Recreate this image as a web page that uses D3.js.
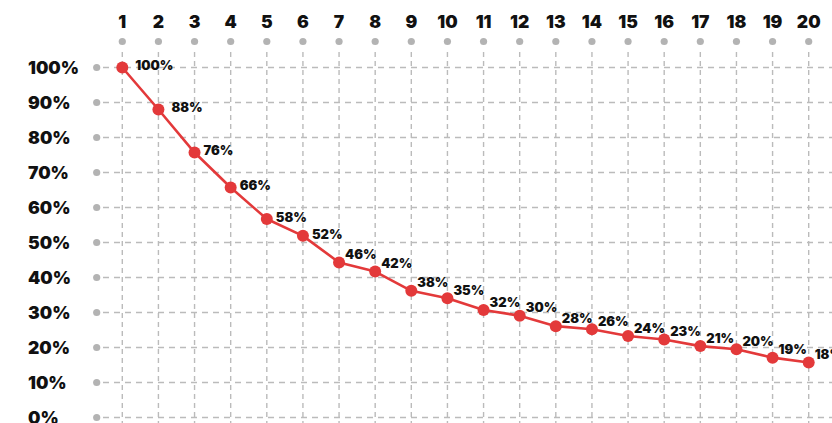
<!DOCTYPE html>
<html>
<head>
<meta charset="utf-8">
<script src="https://cdn.jsdelivr.net/npm/d3@7"></script>
<style>
  html, body { margin: 0; padding: 0; background: #fff; }
  svg text { font-family: Inter, "Noto Sans", sans-serif; font-weight: 900; fill: #111; }
</style>
</head>
<body>
<svg id="chart"></svg>
<script>
// Các bước (trục trên)
const steps = [1, 2, 3, 4, 5, 6, 7, 8, 9, 10, 11, 12, 13, 14, 15, 16, 17, 18, 19, 20];
// Giá trị (%) đọc từ vị trí các điểm
const retention = [100, 88, 75.7, 65.7, 56.7, 51.9, 44.3, 41.7, 36.2, 34.1,
                   30.7, 29.1, 26.1, 25.2, 23.3, 22.3, 20.4, 19.5, 17.1, 15.7];
// Nhãn hiển thị cạnh điểm
const pointLabels = ["100%", "88%", "76%", "66%", "58%", "52%", "46%", "42%", "38%", "35%",
                     "32%", "30%", "28%", "26%", "24%", "23%", "21%", "20%", "19%", "18%"];
// Vạch trục tung
const yTicks = [0, 10, 20, 30, 40, 50, 60, 70, 80, 90, 100];

const W = 832, H = 423;
const svg = d3.select("#chart").attr("width", W).attr("height", H);

const x = d3.scaleLinear().domain([1, 20]).range([122.3, 808.7]);
const y = d3.scaleLinear().domain([0, 100]).range([417.5, 67.5]);

const gridColor = "#bbbbbb";
const dotColor = "#b3b3b3";
const red = "#e3393a";

// Lưới dọc
svg.append("g").selectAll("line")
    .data(steps)
    .join("line")
    .attr("x1", d => x(d)).attr("x2", d => x(d))
    .attr("y1", 52).attr("y2", H)
    .attr("stroke", gridColor)
    .attr("stroke-width", 1.4)
    .attr("stroke-dasharray", "5,4");

// Lưới ngang
svg.append("g").selectAll("line")
    .data(yTicks)
    .join("line")
    .attr("x1", 103).attr("x2", W)
    .attr("y1", d => y(d)).attr("y2", d => y(d))
    .attr("stroke", gridColor)
    .attr("stroke-width", 1.4)
    .attr("stroke-dasharray", "6,5");

// Chấm xám trên đầu cột
svg.append("g").selectAll("circle")
    .data(steps)
    .join("circle")
    .attr("cx", d => x(d)).attr("cy", 41.5)
    .attr("r", 3.6)
    .attr("fill", dotColor);

// Chấm xám bên trái
svg.append("g").selectAll("circle")
    .data(yTicks)
    .join("circle")
    .attr("cx", 96.7).attr("cy", d => y(d))
    .attr("r", 3.6)
    .attr("fill", dotColor);

// Nhãn trục trên
svg.append("g").selectAll("text")
    .data(steps)
    .join("text")
    .attr("x", d => x(d)).attr("y", 28)
    .attr("text-anchor", "middle")
    .style("font-size", "17.5px")
    .text(d => d);

// Nhãn trục trái
svg.append("g").selectAll("text")
    .data(yTicks)
    .join("text")
    .attr("x", 28).attr("y", d => y(d))
    .attr("dy", "0.36em")
    .style("font-size", "17.5px")
    .text(d => `${d}%`);

// Đường
const pts = steps.map((s, i) => ({ step: s, value: retention[i], label: pointLabels[i] }));

svg.append("path")
    .datum(pts)
    .attr("fill", "none")
    .attr("stroke", red)
    .attr("stroke-width", 2.6)
    .attr("stroke-linejoin", "round")
    .attr("d", d3.line().x(d => x(d.step)).y(d => y(d.value)));

svg.append("g").selectAll("circle")
    .data(pts)
    .join("circle")
    .attr("cx", d => x(d.step)).attr("cy", d => y(d.value))
    .attr("r", 6)
    .attr("fill", red);

// Nhãn giá trị: đoạn dốc đặt ngang điểm, đoạn thoải đặt chếch lên trên
svg.append("g").selectAll("text")
    .data(pts)
    .join("text")
    .attr("x", (d, i) => x(d.step) + (i < 2 ? 13 : i < 6 ? 9 : 6))
    .attr("y", (d, i) => y(d.value) + (i < 6 ? -2 : -8))
    .attr("dy", "0.36em")
    .style("font-size", "13px")
    .text(d => d.label);
</script>
</body>
</html>
